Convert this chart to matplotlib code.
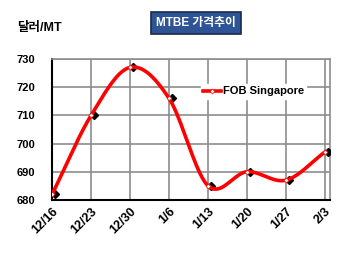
import numpy as np
import matplotlib
matplotlib.use("Agg")
import matplotlib.pyplot as plt
from matplotlib.lines import Line2D

plt.rcParams['font.family'] = ['Liberation Sans', 'Noto Sans CJK KR', 'DejaVu Sans']

# data
dates = ['12/16', '12/23', '12/30', '1/6', '1/13', '1/20', '1/27', '2/3']
fob_sg = [682, 710, 727, 716, 685, 690, 687, 697]


def smooth(y, n=20):
    # catmull-rom curve through the points (like excel smoothed line)
    y = np.asarray(y, dtype=float)
    p = np.concatenate([[2 * y[0] - y[1]], y, [2 * y[-1] - y[-2]]])
    xs, ys = [], []
    for i in range(len(y) - 1):
        t = np.linspace(0, 1, n, endpoint=False)
        p0, p1, p2, p3 = p[i], p[i + 1], p[i + 2], p[i + 3]
        yy = 0.5 * ((2 * p1) + (-p0 + p2) * t + (2 * p0 - 5 * p1 + 4 * p2 - p3) * t ** 2
                    + (-p0 + 3 * p1 - 3 * p2 + p3) * t ** 3)
        xs.append(i + t)
        ys.append(yy)
    xs.append([len(y) - 1])
    ys.append([y[-1]])
    return np.concatenate(xs), np.concatenate(ys)


fig = plt.figure(figsize=(3.5, 2.54), dpi=100)
ax = fig.add_axes([0.149, 0.213, 0.794, 0.555])

x = np.arange(len(dates))
ax.plot(x + 0.08, fob_sg, 'D', color='black', ms=4, zorder=3)
sx, sy = smooth(fob_sg)
ax.plot(sx, sy, color='red', lw=2.6, zorder=4)
ax.plot(x, fob_sg, 'D', color='white', mec='red', ms=2.5, mew=0.5, zorder=5)

ax.set_xlim(0, 7.13)
ax.set_ylim(680, 730)
ax.set_yticks([680, 690, 700, 710, 720, 730])
ax.set_xticks(x)
ax.set_xticklabels(dates, rotation=45, ha='right', va='top', rotation_mode='anchor')
ax.tick_params(axis='x', labelsize=9, length=0, pad=4)
ax.tick_params(axis='y', labelsize=8, length=0, pad=12)
for lab in ax.get_xticklabels() + ax.get_yticklabels():
    lab.set_fontweight('bold')
ax.grid(True, color='#8c8c8c', lw=1.2)
for s in ['top', 'right']:
    ax.spines[s].set_color('#8c8c8c')
    ax.spines[s].set_linewidth(1.2)
for s in ['left', 'bottom']:
    ax.spines[s].set_color('black')
    ax.spines[s].set_linewidth(1.5)

h = Line2D([], [], color='red', lw=2.6, marker='D', mfc='white', mec='red', ms=2.5, mew=0.5)
leg = ax.legend([h], ['FOB Singapore'], loc='upper right', bbox_to_anchor=(0.935, 0.86),
                frameon=True, fancybox=False, edgecolor='white', framealpha=1,
                handlelength=1.6, handletextpad=0.2, borderpad=0.2,
                prop={'weight': 'bold', 'size': 8})

fig.text(0.05, 0.89, '달러/MT', fontsize=9, fontweight='bold', va='center')
fig.text(0.56, 0.91, 'MTBE 가격추이', fontsize=8.5, fontweight='bold', color='white',
         ha='center', va='center',
         bbox=dict(boxstyle='square,pad=0.45', fc='#2f5496', ec='#1a2a4a', lw=1.2))

fig.savefig('out.png', dpi=100)
